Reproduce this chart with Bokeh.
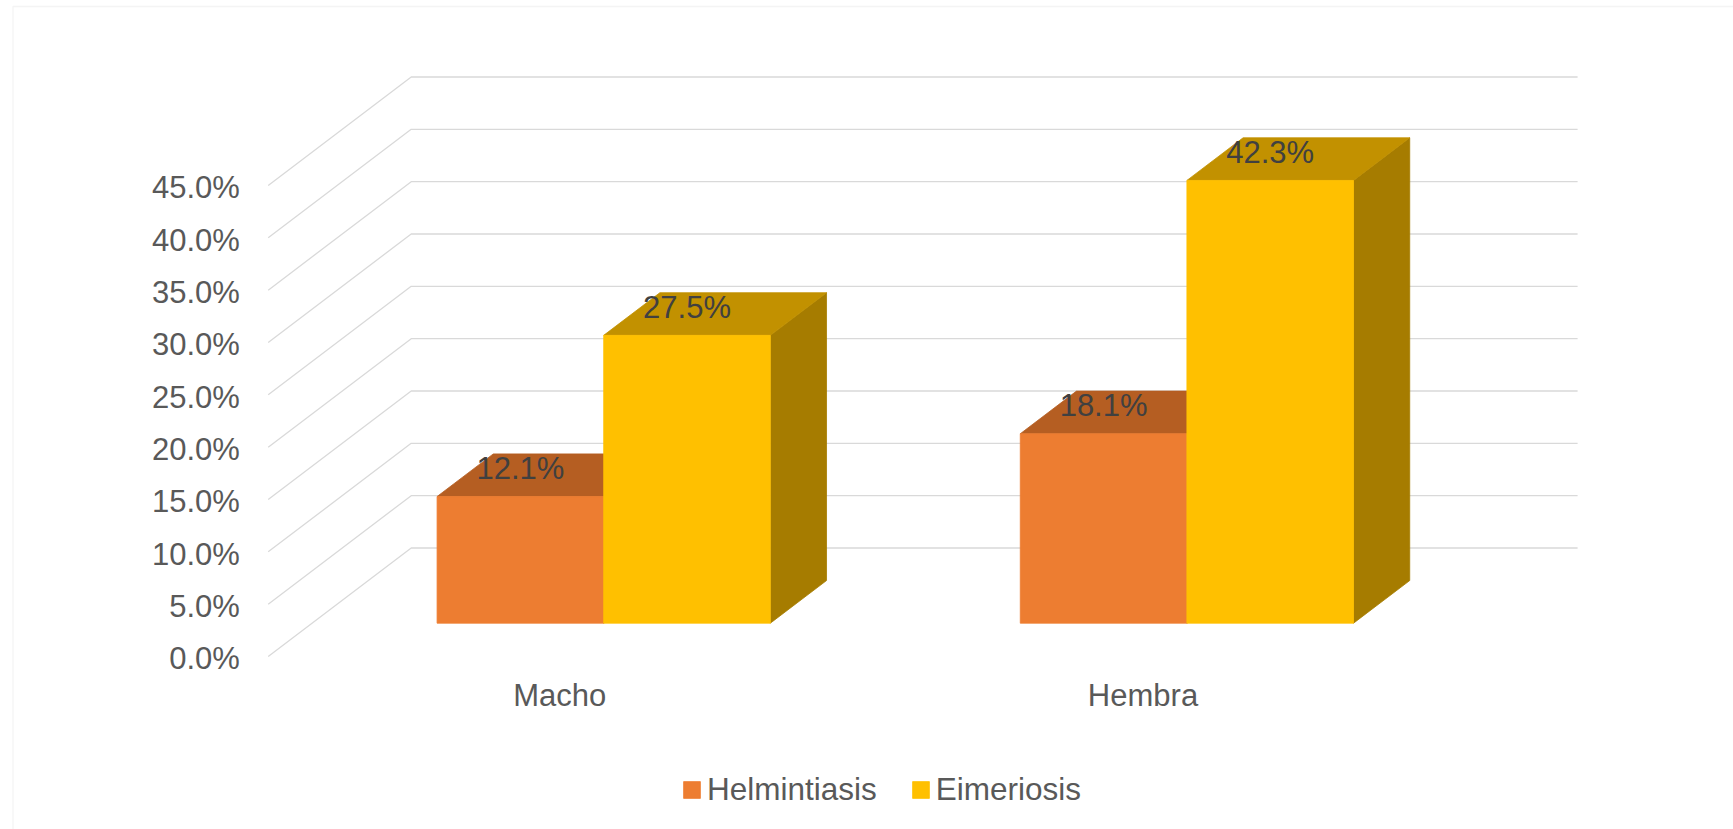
from bokeh.plotting import figure
from bokeh.models import Range1d, Legend, LegendItem, BoxAnnotation
from bokeh.core.properties import value
from bokeh.embed import file_html
from bokeh.resources import INLINE

# ---------------- data ----------------
categories = ["Macho", "Hembra"]
series_names = ["Helmintiasis", "Eimeriosis"]
helmintiasis = [12.1, 18.1]
eimeriosis = [27.5, 42.3]
tick_values = [0, 5, 10, 15, 20, 25, 30, 35, 40, 45]
tick_labels = ["0.0%", "5.0%", "10.0%", "15.0%", "20.0%", "25.0%",
               "30.0%", "35.0%", "40.0%", "45.0%"]

# ---------------- layout / style ----------------
W, H = 1733, 829
FRONT_LEFT_PX = 267.7      # front edge of the side wall
CAT_PX = 583.2             # width of one category
ZERO_PX = 656.0            # 0% on the front plane
PX_PER_PCT = 10.467
DEPTH_DX_PX, DEPTH_DY_PX = 143.0, 108.5

DX = DEPTH_DX_PX / CAT_PX          # depth offset in category units
DY = DEPTH_DY_PX / PX_PER_PCT      # depth offset in percent units
BAR_W = 1 / 3.5                    # gap width 150 %
Z0, Z1 = 0.307, 0.70               # depth span of the bars

FONT = "Liberation Sans"
FS = "31px"
GRID = "#D9D9D9"

front_cols = ["#ED7D31", "#FFC000"]
top_cols = ["#B55E22", "#C29100"]
side_cols = ["#A04F16", "#A67C00"]

def px2x(px):
    return (px - FRONT_LEFT_PX) / CAT_PX

def py2y(py):
    return (ZERO_PX - py) / PX_PER_PCT

def proj(x, y, z):
    return x + z * DX, y + z * DY

p = figure(width=W, height=H, output_backend="svg", toolbar_location=None,
           x_axis_type=None, y_axis_type=None,
           x_range=Range1d(px2x(0), px2x(W)), y_range=Range1d(py2y(H), py2y(0)),
           min_border=0, background_fill_color="white", border_fill_color="white")
p.outline_line_color = None
p.grid.visible = False

# chart border (only top/left visible in the window)
p.add_layout(BoxAnnotation(left=px2x(12.5), right=px2x(W + 20), top=py2y(6), bottom=py2y(H + 20),
                           fill_alpha=0, line_color=GRID, line_width=1.3))

# gridlines: side wall (diagonal) + back wall
xs, ys = [], []
for v in tick_values:
    a = proj(0, v, 0)
    b = proj(0, v, 1)
    c = proj(len(categories), v, 1)
    xs.append([a[0], b[0], c[0]])
    ys.append([a[1], b[1], c[1]])
p.multi_line(xs, ys, line_color=GRID, line_width=1.3)

# tick labels
p.text(x=[0] * len(tick_values), y=[v - 2.3 / PX_PER_PCT for v in tick_values], text=tick_labels,
       x_offset=-28.4, text_align="right", text_baseline="alphabetic",
       text_font=value(FONT), text_font_size=FS, text_color="#595959")

# bars
series = [helmintiasis, eimeriosis]
legend_renderers = []
for s, vals in enumerate(series):
    fx, fy, tx, ty, sx, sy = [], [], [], [], [], []
    for i, v in enumerate(vals):
        x0 = i + 0.5 - BAR_W + s * BAR_W
        x1 = x0 + BAR_W
        front = [proj(x0, 0, Z0), proj(x1, 0, Z0), proj(x1, v, Z0), proj(x0, v, Z0)]
        top = [proj(x0, v, Z0), proj(x1, v, Z0), proj(x1, v, Z1), proj(x0, v, Z1)]
        side = [proj(x1, 0, Z0), proj(x1, v, Z0), proj(x1, v, Z1), proj(x1, 0, Z1)]
        for pts, X, Y in ((front, fx, fy), (top, tx, ty), (side, sx, sy)):
            X.append([q[0] for q in pts])
            Y.append([q[1] for q in pts])
    p.patches(sx, sy, fill_color=side_cols[s], line_color=side_cols[s], line_width=0.8)
    p.patches(tx, ty, fill_color=top_cols[s], line_color=top_cols[s], line_width=0.8)
    r = p.patches(fx, fy, fill_color=front_cols[s], line_color=front_cols[s], line_width=0.8)
    legend_renderers.append(r)

# data labels
for s, vals in enumerate(series):
    lx, ly, lt = [], [], []
    for i, v in enumerate(vals):
        x0 = i + 0.5 - BAR_W + s * BAR_W
        cx, cy = proj(x0 + BAR_W / 2, v, Z0)
        lx.append(cx)
        ly.append(cy + 27.8 / PX_PER_PCT)
        lt.append(f"{v:.1f}%")
    p.text(x=lx, y=ly, text=lt, text_align="center", text_baseline="alphabetic",
           text_font=value(FONT), text_font_size=FS, text_color="#404040")

# category labels
p.text(x=[i + 0.5 for i in range(len(categories))], y=[-39 / PX_PER_PCT] * len(categories),
       text=categories, text_align="center", text_baseline="alphabetic",
       text_font=value(FONT), text_font_size=FS, text_color="#595959")

# legend
legend = Legend(items=[LegendItem(label=n, renderers=[r]) for n, r in zip(series_names, legend_renderers)],
                orientation="horizontal", location=(681, 21),
                glyph_width=21, glyph_height=21, label_standoff=5, spacing=33,
                padding=0, margin=0, border_line_alpha=0, background_fill_alpha=0,
                label_text_font=FONT, label_text_font_size="31.5px", label_text_color="#595959")
p.add_layout(legend)

open("out.html", "w").write(file_html(p, INLINE))
